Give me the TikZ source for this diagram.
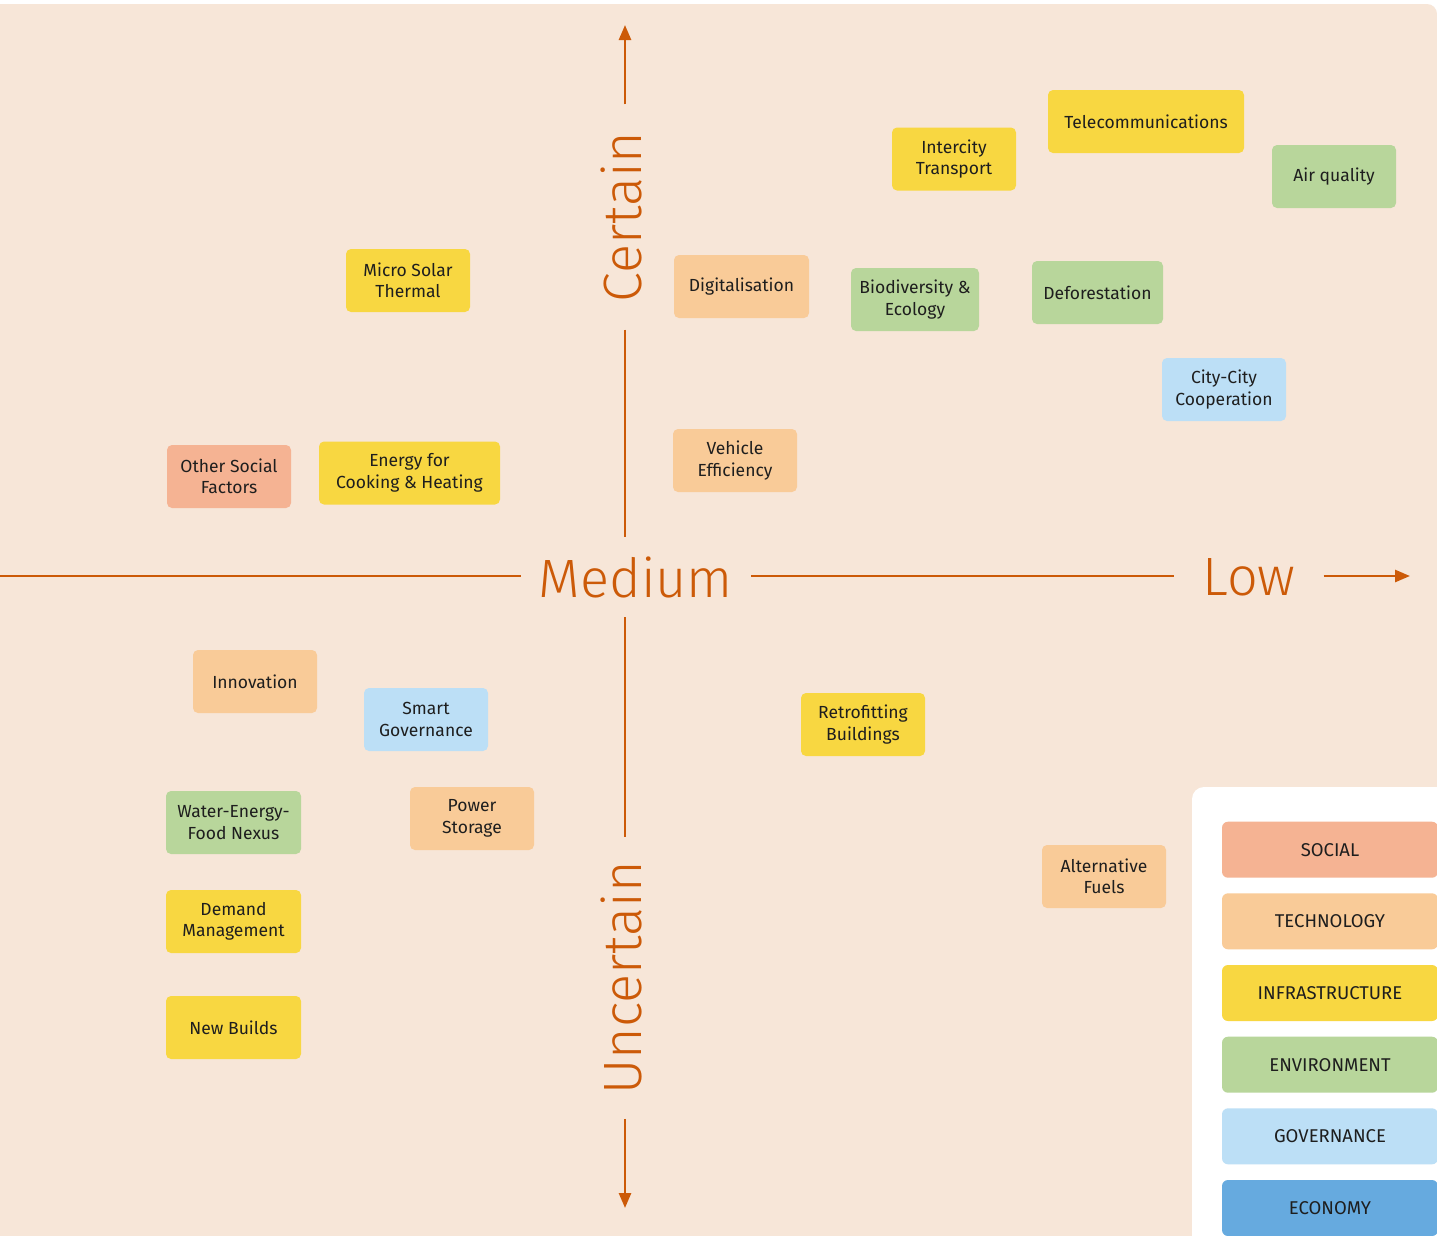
\documentclass[tikz,border=0pt]{standalone}
\usepackage{fontspec}
\setmainfont{Fira Sans}
\newfontfamily\axisfont{Fira Sans Light}
\usetikzlibrary{arrows.meta}
\definecolor{bg}{HTML}{F7E6D8}
\definecolor{axiscol}{HTML}{CC5A08}
\definecolor{social}{HTML}{F5B393}
\definecolor{tech}{HTML}{F9CB98}
\definecolor{infra}{HTML}{F8D741}
\definecolor{env}{HTML}{B8D69B}
\definecolor{gov}{HTML}{BCDFF6}
\definecolor{econ}{HTML}{66AADF}
\definecolor{txt}{HTML}{1E1E1E}
\begin{document}
\begin{tikzpicture}[x=1pt,y=-1pt,
  card/.style={rounded corners=5pt, inner sep=0pt, align=center,
    font=\fontsize{17.5}{21.5}\selectfont, text=txt,
    minimum width=124pt, minimum height=63pt},
  legbox/.style={rounded corners=6pt, inner sep=0pt, align=center,
    font=\fontsize{18.5}{22}\selectfont, text=txt,
    minimum width=216pt, minimum height=56pt},
  axislabel/.style={text=axiscol, font=\axisfont\fontsize{54}{58}\selectfont, inner ysep=0pt},
  axisline/.style={draw=axiscol, line width=2.6pt},
  tip/.style={-{Triangle[length=15pt,width=12pt]}}
]
\clip (0,0) rectangle (1437,1235);
% background
\fill[white] (0,0) rectangle (1437,1235);
\fill[bg, rounded corners=10pt] (-30,4) rectangle (1437,1270);
% legend panel
\fill[white, rounded corners=12pt] (1192,787) rectangle (1470,1270);

% axis labels
\node[axislabel, inner xsep=18pt, minimum height=80pt] (med) at (636,577) {Medium};
\node[axislabel, inner xsep=28pt, minimum height=40pt] (low) at (1249,577) {Low};
\node[axislabel, inner xsep=27pt, rotate=90] (cert) at (621,217) {Certain};
\node[axislabel, inner xsep=24pt, rotate=90] (uncert) at (621,978) {Uncertain};
\coordinate (lft) at (0,576);
\coordinate (rgt) at (1410,576);
\coordinate (top) at (625,25);
\coordinate (bot) at (625,1208);

\draw[axisline] (lft) -- (med.west |- lft);
\draw[axisline] (med.east |- lft) -- (low.west |- lft);
\draw[axisline, tip] (low.east |- lft) -- (rgt);
\draw[axisline, tip] (cert.east -| top) -- (top);
\draw[axisline] (cert.west -| top) -- (med.north -| top);
\draw[axisline] (med.south -| top) -- (uncert.east -| top);
\draw[axisline, tip] (uncert.west -| top) -- (bot);

% cards
\node[card, fill=infra] (mst) at (408,280.5) {Micro Solar\\Thermal};
\node[card, fill=social] (osf) at (229,476.5) {Other Social\\Factors};
\node[card, fill=infra, minimum width=181pt] (ech) at (409.5,473) {Energy for\\Cooking \& Heating};
\node[card, fill=tech, minimum width=135pt] (dig) at (741.5,286.5) {Digitalisation};
\node[card, fill=tech] (veh) at (735,460.5) {Vehicle\\Efficiency};
\node[card, fill=infra] (ict) at (954,159) {Intercity\\Transport};
\node[card, fill=infra, minimum width=196pt] (tel) at (1146,121.5) {Telecommunications};
\node[card, fill=env] (air) at (1334,176.5) {Air quality};
\node[card, fill=env, minimum width=128pt] (bio) at (915,299.5) {Biodiversity \&\\Ecology};
\node[card, fill=env, minimum width=131pt] (def) at (1097.5,292.5) {Deforestation};
\node[card, fill=gov] (ccc) at (1224,389.5) {City-City\\Cooperation};
\node[card, fill=tech] (inn) at (255,681.5) {Innovation};
\node[card, fill=gov] (smg) at (426,719.5) {Smart\\Governance};
\node[card, fill=env, minimum width=135pt] (wef) at (233.5,822.5) {Water-Energy-\\Food Nexus};
\node[card, fill=tech] (pws) at (472,818.5) {Power\\Storage};
\node[card, fill=infra, minimum width=135pt] (dem) at (233.5,921.5) {Demand\\Management};
\node[card, fill=infra, minimum width=135pt] (nwb) at (233.5,1027.5) {New Builds};
\node[card, fill=infra] (ret) at (863,724.5) {Retrofitting\\Buildings};
\node[card, fill=tech] (alt) at (1104,876.5) {Alternative\\Fuels};

% legend
\node[legbox, fill=social] (lsoc) at (1330,849.7) {SOCIAL};
\node[legbox, fill=tech] (ltec) at (1330,921.3) {TECHNOLOGY};
\node[legbox, fill=infra] (linf) at (1330,993) {INFRASTRUCTURE};
\node[legbox, fill=env] (lenv) at (1330,1064.7) {ENVIRONMENT};
\node[legbox, fill=gov] (lgov) at (1330,1136.3) {GOVERNANCE};
\node[legbox, fill=econ] (leco) at (1330,1208) {ECONOMY};
\end{tikzpicture}
\end{document}
